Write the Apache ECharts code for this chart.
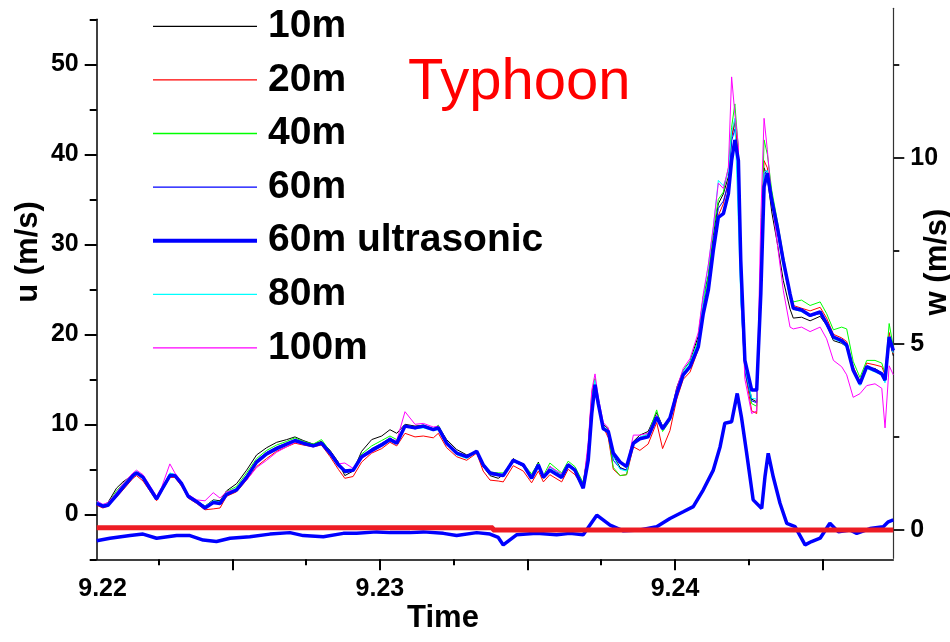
<!DOCTYPE html>
<html>
<head>
<meta charset="utf-8">
<script src="https://cdn.jsdelivr.net/npm/echarts@6.0.0/dist/echarts.min.js"></script>
<style>
html,body{margin:0;padding:0;background:#fff;}
#chart{width:950px;height:642px;}
</style>
</head>
<body>
<div id="chart"></div>
<script>
// ---- Data ----
const uTime = [9.22040,9.22061,9.22078,9.22107,9.22129,9.22163,9.22175,9.22197,9.22220,9.22243,
9.22260,9.22288,9.22305,9.22328,9.22350,9.22379,9.22407,9.22435,9.22458,9.22480,
9.22514,9.22548,9.22582,9.22616,9.22650,9.22684,9.22712,9.22740,9.22774,9.22802,
9.22831,9.22859,9.22881,9.22909,9.22938,9.22972,9.23006,9.23034,9.23057,9.23085,
9.23119,9.23147,9.23181,9.23198,9.23226,9.23260,9.23294,9.23328,9.23350,9.23373,
9.23401,9.23418,9.23452,9.23486,9.23514,9.23537,9.23554,9.23576,9.23616,9.23638,
9.23661,9.23689,9.23706,9.23718,9.23729,9.23740,9.23757,9.23774,9.23791,9.23814,
9.23836,9.23859,9.23881,9.23909,9.23938,9.23958,9.23983,9.24006,9.24028,9.24051,
9.24079,9.24096,9.24113,9.24130,9.24147,9.24164,9.24181,9.24192,9.24203,9.24215,
9.24223,9.24237,9.24260,9.24277,9.24291,9.24302,9.24313,9.24328,9.24347,9.24367,
9.24390,9.24401,9.24429,9.24458,9.24492,9.24514,9.24537,9.24565,9.24582,9.24604,
9.24627,9.24650,9.24678,9.24701,9.24712,9.24726,9.24740];

const u10m = [1.5,1.0,1.3,2.9,3.6,4.4,4.6,4.2,3.1,1.9,
2.9,4.5,4.4,3.5,2.2,1.5,0.9,1.6,1.5,2.6,
3.4,4.9,6.6,7.4,8.0,8.3,8.6,8.2,7.8,8.1,
7.1,5.8,4.3,4.8,7.0,8.3,8.7,9.4,9.0,10.0,
9.8,9.9,9.5,9.8,8.3,7.2,6.6,6.9,5.3,4.3,
4.0,4.4,6.2,5.3,4.2,5.8,4.0,5.3,4.3,5.6,
5.0,3.4,7.0,12.5,14.8,12.5,10.0,9.5,6.5,5.2,
4.9,8.1,8.8,9.2,11.3,9.8,10.6,14.1,16.0,17.0,
19.8,24.2,26.5,31.0,34.5,35.6,37.5,42.0,43.5,38.5,
25.5,16.5,12.8,12.5,28.0,38.5,37.5,33.6,30.1,26.0,
22.8,21.8,21.9,21.5,22.0,21.0,19.3,19.0,18.6,16.2,
14.6,16.3,16.2,15.7,14.8,19.5,17.6];

const u20m = [1.0,0.7,0.9,1.9,2.7,4.0,4.3,3.7,2.6,1.5,
2.5,4.1,4.1,3.1,1.8,1.2,0.5,0.6,0.7,2.0,
2.5,3.8,5.3,6.2,7.0,7.5,7.9,7.7,7.5,7.7,
6.4,5.0,4.0,4.2,5.8,6.8,7.3,8.0,7.6,9.0,
8.6,8.7,8.5,9.0,7.4,6.4,6.0,6.8,4.8,3.8,
3.7,3.6,5.4,4.8,3.5,4.8,3.6,4.4,3.6,5.0,
4.4,3.0,7.5,13.5,15.0,12.0,9.7,8.5,5.0,4.3,
4.4,7.5,7.1,7.8,10.2,7.3,9.3,12.8,15.0,15.8,
18.3,22.5,25.5,30.0,33.2,34.5,37.0,42.0,43.8,40.0,
27.0,16.0,11.5,11.2,29.0,39.3,38.5,35.0,32.0,28.5,
24.8,23.2,22.9,22.6,23.0,21.8,20.0,19.6,19.2,16.4,
14.8,16.8,16.6,16.4,15.5,20.2,17.8];

const u40m = [1.4,1.0,1.2,2.6,3.4,4.5,4.7,4.3,3.0,1.8,
2.8,4.4,4.4,3.5,2.1,1.5,0.8,1.4,1.4,2.5,
3.1,4.6,6.2,7.1,7.7,8.1,8.5,8.1,7.8,8.3,
7.0,5.6,4.6,4.9,6.7,7.6,8.2,8.7,8.3,9.9,
9.7,9.9,9.5,9.9,8.1,6.9,6.3,7.0,5.7,4.7,
4.6,4.6,6.0,5.6,4.5,5.7,4.3,5.7,4.6,5.9,
5.3,3.5,7.2,13.0,15.1,12.3,9.8,8.9,5.2,4.3,
4.4,8.0,8.5,8.9,11.6,9.2,10.4,13.8,16.0,16.9,
19.4,23.5,26.5,31.5,35.0,35.8,38.5,43.0,45.6,40.5,
26.5,16.2,12.3,12.0,28.5,41.6,40.0,36.0,32.6,28.8,
24.5,23.6,23.8,23.2,23.6,22.3,20.5,20.8,20.6,17.0,
15.2,17.1,17.1,16.8,15.6,21.2,18.6];

const u60m = [1.3,1.0,1.1,2.3,3.2,4.4,4.6,4.1,2.8,1.7,
2.7,4.3,4.3,3.3,1.9,1.4,0.7,1.2,1.3,2.3,
2.9,4.3,6.0,6.9,7.5,7.9,8.2,7.9,7.6,7.9,
6.7,5.4,4.6,4.8,6.4,7.3,7.9,8.5,8.0,9.8,
9.5,9.7,9.4,9.6,7.9,6.7,6.3,6.9,5.3,4.4,
4.3,4.2,5.9,5.3,4.1,5.4,4.1,5.0,4.2,5.4,
4.8,3.1,6.8,12.3,14.6,12.0,9.4,9.0,6.0,5.1,
4.9,7.9,8.3,8.7,10.8,9.4,10.6,13.5,15.6,16.5,
19.0,23.0,25.8,30.3,34.0,34.8,36.8,41.5,42.8,38.0,
24.0,15.8,12.6,12.4,27.0,37.8,38.2,34.8,31.5,27.8,
24.0,22.8,22.6,22.0,22.3,21.1,19.6,19.2,18.7,16.0,
14.4,16.3,16.0,15.6,14.8,19.6,18.0];

const u60mUltrasonic = [1.2,0.9,1.0,2.1,3.0,4.3,4.6,4.1,2.9,1.7,
2.7,4.3,4.3,3.4,2.0,1.4,0.7,1.3,1.2,2.2,
2.7,4.1,5.8,6.7,7.3,7.8,8.2,7.9,7.6,7.9,
6.8,5.5,4.8,4.9,6.4,7.1,7.7,8.3,7.9,9.8,
9.6,9.8,9.4,9.6,7.9,6.8,6.4,7.0,5.5,4.6,
4.4,4.3,6.0,5.5,4.0,5.5,4.1,4.9,4.1,5.5,
4.9,2.9,6.0,11.2,14.4,12.3,9.5,9.2,6.8,5.8,
5.3,7.9,8.4,8.6,10.8,9.5,10.7,13.4,15.5,16.4,
18.6,22.3,24.9,29.3,33.0,33.4,35.6,39.3,41.6,39.3,
28.2,17.1,13.8,13.8,24.5,36.4,37.9,34.9,31.9,28.2,
24.5,22.9,22.7,22.1,22.5,21.2,19.7,19.3,18.8,16.0,
14.5,16.4,16.0,15.6,14.9,19.7,18.2];

const u80m = [1.4,1.1,1.2,2.4,3.3,4.4,4.7,4.2,3.0,1.9,
2.8,4.6,4.4,3.5,2.1,1.5,0.9,1.5,1.4,2.4,
2.9,4.2,5.9,6.7,7.3,7.8,8.1,7.9,7.6,7.9,
6.9,5.6,4.9,5.0,6.3,7.0,7.6,8.2,7.9,9.9,
9.5,9.6,9.3,9.4,7.8,6.6,6.2,6.9,5.4,4.5,
4.4,4.5,6.1,5.6,4.3,5.6,4.3,5.2,4.4,5.6,
5.0,3.3,6.5,12.6,14.9,12.6,9.8,9.3,6.4,5.0,
4.8,7.8,8.6,8.9,11.0,9.8,10.6,13.7,15.9,16.9,
19.2,24.0,27.7,31.8,37.1,36.5,38.0,42.5,44.0,32.3,
24.0,16.3,12.9,12.8,27.5,38.0,38.2,35.0,31.8,27.5,
24.2,22.8,22.5,22.0,22.4,21.0,19.5,19.1,18.5,15.8,
14.3,16.2,15.8,15.5,14.6,19.5,17.9];

const u100m = [1.5,1.1,1.3,2.4,3.4,4.6,4.9,4.4,3.2,2.0,
3.0,5.6,4.6,3.6,2.2,1.6,1.5,2.4,1.8,2.5,
2.8,3.8,5.2,6.0,6.9,7.5,8.0,7.8,7.5,7.8,
6.9,5.6,5.7,5.1,6.2,6.9,7.6,8.3,8.2,11.4,
10.0,10.1,9.7,9.8,8.0,6.8,6.4,7.1,5.6,4.7,
4.5,4.4,6.1,5.4,4.3,5.3,4.2,5.3,4.5,5.6,
5.0,3.2,8.0,13.8,15.6,13.0,10.2,9.6,6.9,6.0,
5.3,8.8,8.8,9.0,11.0,9.6,10.8,14.0,16.2,17.3,
20.2,24.5,27.7,32.0,36.8,36.2,38.5,48.6,44.5,41.0,
26.0,15.0,11.2,11.5,33.0,44.0,40.5,35.0,30.0,24.9,
20.8,20.6,20.8,20.3,20.8,19.5,17.1,16.4,15.5,13.0,
13.4,14.3,14.5,14.0,9.6,16.5,15.5];

const wTime = [9.22040,9.22085,9.22153,9.22197,9.22243,9.22311,9.22356,9.22401,9.22446,9.22492,
9.22559,9.22627,9.22695,9.22740,9.22808,9.22876,9.22921,9.22989,9.23034,9.23102,
9.23147,9.23215,9.23260,9.23328,9.23373,9.23401,9.23418,9.23463,9.23531,9.23599,
9.23644,9.23689,9.23735,9.23780,9.23825,9.23881,9.23938,9.23983,9.24028,9.24062,
9.24096,9.24130,9.24153,9.24169,9.24192,9.24211,9.24226,9.24243,9.24265,9.24294,
9.24305,9.24316,9.24333,9.24356,9.24379,9.24407,9.24441,9.24463,9.24492,9.24525,
9.24554,9.24593,9.24616,9.24661,9.24706,9.24723,9.24740];
const w60mUltrasonic = [-0.29,-0.22,-0.15,-0.11,-0.22,-0.15,-0.15,-0.27,-0.31,-0.22,
-0.18,-0.11,-0.07,-0.15,-0.18,-0.09,-0.09,-0.05,-0.07,-0.07,
-0.05,-0.09,-0.15,-0.07,-0.11,-0.20,-0.40,-0.13,-0.09,-0.13,
-0.09,-0.13,0.40,0.13,-0.02,0.00,0.09,0.31,0.49,0.63,
1.08,1.61,2.24,2.87,2.91,3.67,3.00,2.06,0.81,0.58,
1.43,2.06,1.43,0.72,0.18,0.09,-0.40,-0.31,-0.22,0.18,
-0.05,0.00,-0.09,0.04,0.09,0.22,0.27];

const refLineTime = [9.2204, 9.23383, 9.23383, 9.2474];
const refLineW = [0.06, 0.06, 0, 0];

const xMin = 9.2204, xMax = 9.2474;
const xMajorTicks = [9.225, 9.23, 9.235, 9.24, 9.245];
const xMinorTicks = [9.2225, 9.2275, 9.2325, 9.2375, 9.2425];
const xLabelPos = [9.2206, 9.23, 9.24];
const uMin = -5, uMax = 55;
const uMajorTicks = [0, 10, 20, 30, 40, 50];
const uMinorTicks = [-5, 5, 15, 25, 35, 45, 55];
const wMin = -0.76, wMax = 14.02;
const wMajorTicks = [0, 5, 10];
const wMinorTicks = [2.5, 7.5, 12.5];

const legendNames = ['10m', '20m', '40m', '60m', '60m ultrasonic', '80m', '100m'];
const legendColors = ['#000000', '#FF0000', '#00FF00', '#0000FF', '#0000FF', '#00FFFF', '#FF00FF'];

// ---- Chart ----
const FONT = '"Liberation Sans", Arial, sans-serif';
const pairs = (ts, vs) => ts.map((t, i) => [t, vs[i]]);
const chart = echarts.init(document.getElementById('chart'), null, {renderer: 'canvas'});

function thin(name, vals, color) {
  return {name, type: 'line', xAxisIndex: 0, yAxisIndex: 0, data: pairs(uTime, vals),
    symbol: 'none', showSymbol: false, lineStyle: {width: 1, color}, itemStyle: {color}, z: 2};
}
const tickLabel = {fontSize: 25, fontWeight: 'bold', color: '#000', fontFamily: FONT};

const option = {
  animation: false,
  backgroundColor: '#fff',
  textStyle: {fontFamily: FONT},
  grid: [
    {left: 96.7, top: 19.3, width: 796.6, height: 540},
    {left: 96.7, top: 8.3, width: 796.6, height: 550}
  ],
  xAxis: [
    {type: 'value', gridIndex: 0, position: 'bottom', min: xMin, max: xMax,
      axisLine: {show: true, onZero: false, lineStyle: {color: '#000', width: 1.5}},
      axisTick: {show: true, inside: false, length: 11, customValues: xMajorTicks, lineStyle: {color: '#000', width: 2}},
      axisLabel: Object.assign({customValues: xLabelPos, margin: 17, formatter: v => v.toFixed(2)}, tickLabel),
      splitLine: {show: false}},
    {type: 'value', gridIndex: 0, position: 'bottom', min: xMin, max: xMax,
      axisLine: {show: false, onZero: false},
      axisTick: {show: true, length: 6, customValues: xMinorTicks, lineStyle: {color: '#000', width: 2}},
      axisLabel: {show: false}, splitLine: {show: false}},
    {type: 'value', gridIndex: 1, position: 'bottom', min: xMin, max: xMax, show: false}
  ],
  yAxis: [
    {type: 'value', gridIndex: 0, position: 'left', min: uMin, max: uMax,
      axisLine: {show: true, onZero: false, lineStyle: {color: '#000', width: 1.5}},
      axisTick: {show: true, length: 12, customValues: uMajorTicks, lineStyle: {color: '#000', width: 2}},
      axisLabel: Object.assign({customValues: uMajorTicks, margin: 18}, tickLabel),
      splitLine: {show: false}},
    {type: 'value', gridIndex: 0, position: 'left', min: uMin, max: uMax,
      axisLine: {show: false, onZero: false},
      axisTick: {show: true, length: 7, customValues: uMinorTicks, lineStyle: {color: '#000', width: 2}},
      axisLabel: {show: false}, splitLine: {show: false}},
    {type: 'value', gridIndex: 1, position: 'right', min: wMin, max: wMax,
      axisLine: {show: true, onZero: false, lineStyle: {color: '#333', width: 1.2}},
      axisTick: {show: true, length: 11, customValues: wMajorTicks, lineStyle: {color: '#222', width: 2}},
      axisLabel: Object.assign({customValues: wMajorTicks, margin: 17}, tickLabel),
      splitLine: {show: false}},
    {type: 'value', gridIndex: 1, position: 'right', min: wMin, max: wMax,
      axisLine: {show: false, onZero: false},
      axisTick: {show: true, length: 6, customValues: wMinorTicks, lineStyle: {color: '#222', width: 2}},
      axisLabel: {show: false}, splitLine: {show: false}}
  ],
  legend: {
    orient: 'vertical', left: 151, top: 6.3, padding: 0,
    itemWidth: 104, itemHeight: 14, itemGap: 13.6,
    itemStyle: {opacity: 0},
    textStyle: {fontSize: 39, fontWeight: 'bold', color: '#000', lineHeight: 40, fontFamily: FONT, padding: [0, 0, 0, 6]},
    data: legendNames.map((n, i) => ({name: n, lineStyle: {width: n === '60m ultrasonic' ? 4 : 1.3, color: legendColors[i], opacity: 1}})),
    selectedMode: false
  },
  graphic: [
    {type: 'text', x: 408, y: 83, style: {text: 'Typhoon', fill: '#FF0000', fontSize: 58, fontFamily: FONT, align: 'left', verticalAlign: 'middle'}},
    {type: 'text', x: 443, y: 618, style: {text: 'Time', fill: '#000', fontSize: 31, fontWeight: 'bold', fontFamily: FONT, align: 'center', verticalAlign: 'middle'}},
    {type: 'text', x: 28, y: 252, rotation: Math.PI / 2, style: {text: 'u (m/s)', fill: '#000', fontSize: 31, fontWeight: 'bold', fontFamily: FONT, align: 'center', verticalAlign: 'middle'}},
    {type: 'text', x: 937, y: 262, rotation: Math.PI / 2, style: {text: 'w (m/s)', fill: '#000', fontSize: 31, fontWeight: 'bold', fontFamily: FONT, align: 'center', verticalAlign: 'middle'}}
  ],
  series: [
    thin('10m', u10m, '#000000'),
    thin('20m', u20m, '#FF0000'),
    thin('40m', u40m, '#00FF00'),
    thin('60m', u60m, '#0000FF'),
    thin('80m', u80m, '#00FFFF'),
    thin('100m', u100m, '#FF00FF'),
    {name: '60m ultrasonic', type: 'line', xAxisIndex: 0, yAxisIndex: 0, data: pairs(uTime, u60mUltrasonic),
      symbol: 'none', showSymbol: false, lineStyle: {width: 3.5, color: '#0000FF'}, itemStyle: {color: '#0000FF'}, z: 3},
    {name: 'w 60m ultrasonic', type: 'line', xAxisIndex: 2, yAxisIndex: 2, data: pairs(wTime, w60mUltrasonic),
      symbol: 'none', showSymbol: false, lineStyle: {width: 3.5, color: '#0000FF'}, itemStyle: {color: '#0000FF'}, z: 3},
    {name: 'w = 0', type: 'line', xAxisIndex: 2, yAxisIndex: 2, data: pairs(refLineTime, refLineW),
      symbol: 'none', showSymbol: false, lineStyle: {width: 5, color: '#ED1C24'}, itemStyle: {color: '#ED1C24'}, z: 4}
  ]
};
chart.setOption(option);
</script>
</body>
</html>
